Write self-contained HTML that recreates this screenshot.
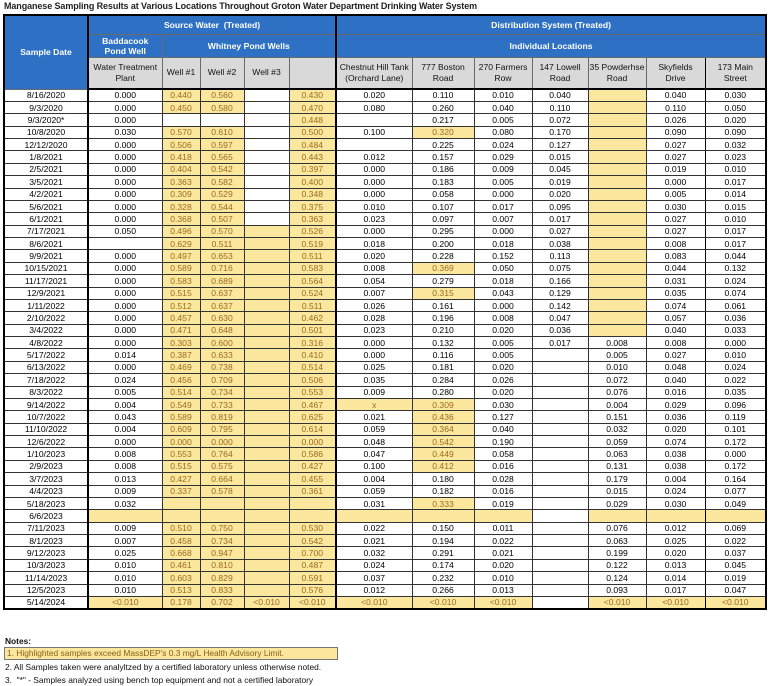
<!DOCTYPE html>
<html><head><meta charset="utf-8"><style>
body{margin:0;width:768px;height:686px;background:#fff;font-family:"Liberation Sans",Arial,sans-serif;position:relative;overflow:hidden}
.title{position:absolute;left:4px;top:1px;font-size:9px;font-weight:bold;color:#222;letter-spacing:-0.1px}
table{position:absolute;left:3px;top:14px;border-collapse:collapse;table-layout:fixed;width:762px;font-size:8.6px;border:2px solid #000}
td,th{border:1px solid #333;padding:0;text-align:center;overflow:hidden;white-space:nowrap;line-height:10px}
th{background:#2e70c4;color:#fff;font-weight:bold;border-color:#6a6a6a}
th.g{background:#d9d9d9;color:#111;font-weight:normal;white-space:normal;line-height:11px}
tbody tr{height:12.38px}
td.y{background:#fce79f;color:#9a6b1c}
.tl{border-left:2px solid #000}
.tr{border-right:2px solid #000}
.mr{border-right:1.5px solid #000}
thead tr.r3 th{border-bottom:2px solid #000}
.notes{position:absolute;left:5px;font-size:8.4px;color:#111}
</style></head><body>
<div class="title">Manganese Sampling Results at Various Locations Throughout Groton Water Department Drinking Water System</div>
<table>
<colgroup><col style="width:84px"><col style="width:74px"><col style="width:38px"><col style="width:44px"><col style="width:45px"><col style="width:47px"><col style="width:76px"><col style="width:62px"><col style="width:58px"><col style="width:56px"><col style="width:58px"><col style="width:59px"><col style="width:61px"></colgroup>
<thead>
<tr style="height:19px"><th rowspan="3" class="tr">Sample Date</th><th colspan="5" class="tr">Source Water &nbsp;(Treated)</th><th colspan="7">Distribution System (Treated)</th></tr>
<tr style="height:23px"><th>Baddacook<br>Pond Well</th><th colspan="4" class="tr">Whitney Pond Wells</th><th colspan="7">Individual Locations</th></tr>
<tr class="r3" style="height:32px"><th class="g">Water Treatment Plant</th><th class="g">Well #1</th><th class="g">Well #2</th><th class="g">Well #3</th><th class="g tr"></th><th class="g">Chestnut Hill Tank (Orchard Lane)</th><th class="g">777 Boston<br>Road</th><th class="g">270 Farmers Row</th><th class="g">147 Lowell Road</th><th class="g">35 Powderhse Road</th><th class="g mr">Skyfields<br>Drive</th><th class="g">173 Main<br>Street</th></tr>
</thead>
<tbody>
<tr><td class="tr">8/16/2020</td><td>0.000</td><td class="y">0.440</td><td class="y">0.560</td><td></td><td class="y tr">0.430</td><td>0.020</td><td>0.110</td><td>0.010</td><td>0.040</td><td class="y"></td><td class="mr">0.040</td><td>0.030</td></tr>
<tr><td class="tr">9/3/2020</td><td>0.000</td><td class="y">0.450</td><td class="y">0.580</td><td></td><td class="y tr">0.470</td><td>0.080</td><td>0.260</td><td>0.040</td><td>0.110</td><td class="y"></td><td class="mr">0.110</td><td>0.050</td></tr>
<tr><td class="tr">9/3/2020*</td><td>0.000</td><td></td><td></td><td></td><td class="y tr">0.448</td><td></td><td>0.217</td><td>0.005</td><td>0.072</td><td class="y"></td><td class="mr">0.026</td><td>0.020</td></tr>
<tr><td class="tr">10/8/2020</td><td>0.030</td><td class="y">0.570</td><td class="y">0.610</td><td></td><td class="y tr">0.500</td><td>0.100</td><td class="y">0.320</td><td>0.080</td><td>0.170</td><td class="y"></td><td class="mr">0.090</td><td>0.090</td></tr>
<tr><td class="tr">12/12/2020</td><td>0.000</td><td class="y">0.506</td><td class="y">0.597</td><td></td><td class="y tr">0.484</td><td></td><td>0.225</td><td>0.024</td><td>0.127</td><td class="y"></td><td class="mr">0.027</td><td>0.032</td></tr>
<tr><td class="tr">1/8/2021</td><td>0.000</td><td class="y">0.418</td><td class="y">0.565</td><td></td><td class="y tr">0.443</td><td>0.012</td><td>0.157</td><td>0.029</td><td>0.015</td><td class="y"></td><td class="mr">0.027</td><td>0.023</td></tr>
<tr><td class="tr">2/5/2021</td><td>0.000</td><td class="y">0.404</td><td class="y">0.542</td><td></td><td class="y tr">0.397</td><td>0.000</td><td>0.186</td><td>0.009</td><td>0.045</td><td class="y"></td><td class="mr">0.019</td><td>0.010</td></tr>
<tr><td class="tr">3/5/2021</td><td>0.000</td><td class="y">0.363</td><td class="y">0.582</td><td></td><td class="y tr">0.400</td><td>0.000</td><td>0.183</td><td>0.005</td><td>0.019</td><td class="y"></td><td class="mr">0.000</td><td>0.017</td></tr>
<tr><td class="tr">4/2/2021</td><td>0.000</td><td class="y">0.309</td><td class="y">0.529</td><td></td><td class="y tr">0.348</td><td>0.000</td><td>0.058</td><td>0.000</td><td>0.020</td><td class="y"></td><td class="mr">0.005</td><td>0.014</td></tr>
<tr><td class="tr">5/6/2021</td><td>0.000</td><td class="y">0.328</td><td class="y">0.544</td><td></td><td class="y tr">0.375</td><td>0.010</td><td>0.107</td><td>0.017</td><td>0.095</td><td class="y"></td><td class="mr">0.030</td><td>0.015</td></tr>
<tr><td class="tr">6/1/2021</td><td>0.000</td><td class="y">0.368</td><td class="y">0.507</td><td></td><td class="y tr">0.363</td><td>0.023</td><td>0.097</td><td>0.007</td><td>0.017</td><td class="y"></td><td class="mr">0.027</td><td>0.010</td></tr>
<tr><td class="tr">7/17/2021</td><td>0.050</td><td class="y">0.496</td><td class="y">0.570</td><td class="y"></td><td class="y tr">0.526</td><td>0.000</td><td>0.295</td><td>0.000</td><td>0.027</td><td class="y"></td><td class="mr">0.027</td><td>0.017</td></tr>
<tr><td class="tr">8/6/2021</td><td></td><td class="y">0.629</td><td class="y">0.511</td><td class="y"></td><td class="y tr">0.519</td><td>0.018</td><td>0.200</td><td>0.018</td><td>0.038</td><td class="y"></td><td class="mr">0.008</td><td>0.017</td></tr>
<tr><td class="tr">9/9/2021</td><td>0.000</td><td class="y">0.497</td><td class="y">0.653</td><td class="y"></td><td class="y tr">0.511</td><td>0.020</td><td>0.228</td><td>0.152</td><td>0.113</td><td class="y"></td><td class="mr">0.083</td><td>0.044</td></tr>
<tr><td class="tr">10/15/2021</td><td>0.000</td><td class="y">0.589</td><td class="y">0.716</td><td class="y"></td><td class="y tr">0.583</td><td>0.008</td><td class="y">0.369</td><td>0.050</td><td>0.075</td><td class="y"></td><td class="mr">0.044</td><td>0.132</td></tr>
<tr><td class="tr">11/17/2021</td><td>0.000</td><td class="y">0.583</td><td class="y">0.689</td><td class="y"></td><td class="y tr">0.564</td><td>0.054</td><td>0.279</td><td>0.018</td><td>0.166</td><td class="y"></td><td class="mr">0.031</td><td>0.024</td></tr>
<tr><td class="tr">12/9/2021</td><td>0.000</td><td class="y">0.515</td><td class="y">0.637</td><td class="y"></td><td class="y tr">0.524</td><td>0.007</td><td class="y">0.315</td><td>0.043</td><td>0.129</td><td class="y"></td><td class="mr">0.035</td><td>0.074</td></tr>
<tr><td class="tr">1/11/2022</td><td>0.000</td><td class="y">0.512</td><td class="y">0.637</td><td class="y"></td><td class="y tr">0.511</td><td>0.026</td><td>0.161</td><td>0.000</td><td>0.142</td><td class="y"></td><td class="mr">0.074</td><td>0.061</td></tr>
<tr><td class="tr">2/10/2022</td><td>0.000</td><td class="y">0.457</td><td class="y">0.630</td><td class="y"></td><td class="y tr">0.462</td><td>0.028</td><td>0.196</td><td>0.008</td><td>0.047</td><td class="y"></td><td class="mr">0.057</td><td>0.036</td></tr>
<tr><td class="tr">3/4/2022</td><td>0.000</td><td class="y">0.471</td><td class="y">0.648</td><td class="y"></td><td class="y tr">0.501</td><td>0.023</td><td>0.210</td><td>0.020</td><td>0.036</td><td class="y"></td><td class="mr">0.040</td><td>0.033</td></tr>
<tr><td class="tr">4/8/2022</td><td>0.000</td><td class="y">0.303</td><td class="y">0.600</td><td class="y"></td><td class="y tr">0.316</td><td>0.000</td><td>0.132</td><td>0.005</td><td>0.017</td><td>0.008</td><td class="mr">0.008</td><td>0.000</td></tr>
<tr><td class="tr">5/17/2022</td><td>0.014</td><td class="y">0.387</td><td class="y">0.633</td><td class="y"></td><td class="y tr">0.410</td><td>0.000</td><td>0.116</td><td>0.005</td><td></td><td>0.005</td><td class="mr">0.027</td><td>0.010</td></tr>
<tr><td class="tr">6/13/2022</td><td>0.000</td><td class="y">0.469</td><td class="y">0.738</td><td class="y"></td><td class="y tr">0.514</td><td>0.025</td><td>0.181</td><td>0.020</td><td></td><td>0.010</td><td class="mr">0.048</td><td>0.024</td></tr>
<tr><td class="tr">7/18/2022</td><td>0.024</td><td class="y">0.456</td><td class="y">0.709</td><td class="y"></td><td class="y tr">0.506</td><td>0.035</td><td>0.284</td><td>0.026</td><td></td><td>0.072</td><td class="mr">0.040</td><td>0.022</td></tr>
<tr><td class="tr">8/3/2022</td><td>0.005</td><td class="y">0.514</td><td class="y">0.734</td><td class="y"></td><td class="y tr">0.553</td><td>0.009</td><td>0.280</td><td>0.020</td><td></td><td>0.076</td><td class="mr">0.016</td><td>0.035</td></tr>
<tr><td class="tr">9/14/2022</td><td>0.004</td><td class="y">0.549</td><td class="y">0.733</td><td class="y"></td><td class="y tr">0.467</td><td class="y">x</td><td class="y">0.309</td><td>0.030</td><td></td><td>0.004</td><td class="mr">0.029</td><td>0.096</td></tr>
<tr><td class="tr">10/7/2022</td><td>0.043</td><td class="y">0.589</td><td class="y">0.819</td><td class="y"></td><td class="y tr">0.625</td><td>0.021</td><td class="y">0.436</td><td>0.127</td><td></td><td>0.151</td><td class="mr">0.036</td><td>0.119</td></tr>
<tr><td class="tr">11/10/2022</td><td>0.004</td><td class="y">0.609</td><td class="y">0.795</td><td class="y"></td><td class="y tr">0.614</td><td>0.059</td><td class="y">0.364</td><td>0.040</td><td></td><td>0.032</td><td class="mr">0.020</td><td>0.101</td></tr>
<tr><td class="tr">12/6/2022</td><td>0.000</td><td class="y">0.000</td><td class="y">0.000</td><td class="y"></td><td class="y tr">0.000</td><td>0.048</td><td class="y">0.542</td><td>0.190</td><td></td><td>0.059</td><td class="mr">0.074</td><td>0.172</td></tr>
<tr><td class="tr">1/10/2023</td><td>0.008</td><td class="y">0.553</td><td class="y">0.764</td><td class="y"></td><td class="y tr">0.586</td><td>0.047</td><td class="y">0.449</td><td>0.058</td><td></td><td>0.063</td><td class="mr">0.038</td><td>0.000</td></tr>
<tr><td class="tr">2/9/2023</td><td>0.008</td><td class="y">0.515</td><td class="y">0.575</td><td class="y"></td><td class="y tr">0.427</td><td>0.100</td><td class="y">0.412</td><td>0.016</td><td></td><td>0.131</td><td class="mr">0.038</td><td>0.172</td></tr>
<tr><td class="tr">3/7/2023</td><td>0.013</td><td class="y">0.427</td><td class="y">0.664</td><td class="y"></td><td class="y tr">0.455</td><td>0.004</td><td>0.180</td><td>0.028</td><td></td><td>0.179</td><td class="mr">0.004</td><td>0.164</td></tr>
<tr><td class="tr">4/4/2023</td><td>0.009</td><td class="y">0.337</td><td class="y">0.578</td><td class="y"></td><td class="y tr">0.361</td><td>0.059</td><td>0.182</td><td>0.016</td><td></td><td>0.015</td><td class="mr">0.024</td><td>0.077</td></tr>
<tr><td class="tr">5/18/2023</td><td>0.032</td><td class="y"></td><td class="y"></td><td class="y"></td><td class="y tr"></td><td>0.031</td><td class="y">0.333</td><td>0.019</td><td></td><td>0.029</td><td class="mr">0.030</td><td>0.049</td></tr>
<tr><td class="tr">6/6/2023</td><td class="y"></td><td class="y"></td><td class="y"></td><td class="y"></td><td class="y tr"></td><td class="y"></td><td class="y"></td><td class="y"></td><td></td><td class="y"></td><td class="y mr"></td><td class="y"></td></tr>
<tr><td class="tr">7/11/2023</td><td>0.009</td><td class="y">0.510</td><td class="y">0.750</td><td class="y"></td><td class="y tr">0.530</td><td>0.022</td><td>0.150</td><td>0.011</td><td></td><td>0.076</td><td class="mr">0.012</td><td>0.069</td></tr>
<tr><td class="tr">8/1/2023</td><td>0.007</td><td class="y">0.458</td><td class="y">0.734</td><td class="y"></td><td class="y tr">0.542</td><td>0.021</td><td>0.194</td><td>0.022</td><td></td><td>0.063</td><td class="mr">0.025</td><td>0.022</td></tr>
<tr><td class="tr">9/12/2023</td><td>0.025</td><td class="y">0.668</td><td class="y">0.947</td><td class="y"></td><td class="y tr">0.700</td><td>0.032</td><td>0.291</td><td>0.021</td><td></td><td>0.199</td><td class="mr">0.020</td><td>0.037</td></tr>
<tr><td class="tr">10/3/2023</td><td>0.010</td><td class="y">0.461</td><td class="y">0.810</td><td class="y"></td><td class="y tr">0.487</td><td>0.024</td><td>0.174</td><td>0.020</td><td></td><td>0.122</td><td class="mr">0.013</td><td>0.045</td></tr>
<tr><td class="tr">11/14/2023</td><td>0.010</td><td class="y">0.603</td><td class="y">0.829</td><td class="y"></td><td class="y tr">0.591</td><td>0.037</td><td>0.232</td><td>0.010</td><td></td><td>0.124</td><td class="mr">0.014</td><td>0.019</td></tr>
<tr><td class="tr">12/5/2023</td><td>0.010</td><td class="y">0.513</td><td class="y">0.833</td><td class="y"></td><td class="y tr">0.576</td><td>0.012</td><td>0.266</td><td>0.013</td><td></td><td>0.093</td><td class="mr">0.017</td><td>0.047</td></tr>
<tr><td class="tr">5/14/2024</td><td class="y">&lt;0.010</td><td class="y">0.178</td><td class="y">0.702</td><td class="y">&lt;0.010</td><td class="y tr">&lt;0.010</td><td class="y">&lt;0.010</td><td class="y">&lt;0.010</td><td class="y">&lt;0.010</td><td></td><td class="y">&lt;0.010</td><td class="y mr">&lt;0.010</td><td class="y">&lt;0.010</td></tr>
</tbody>
</table>
<div class="notes" style="top:636px;font-weight:bold">Notes:</div>
<div class="notes" style="top:647px;left:4px;width:330px;height:11px;background:#fce79f;border:1px solid #777;color:#8a5d12;padding-left:2px;line-height:11px">1. Highlighted samples exceed MassDEP's 0.3 mg/L Health Advisory Limit.</div>
<div class="notes" style="top:662px">2. All Samples taken were analyltzed by a certified laboratory unless otherwise noted.</div>
<div class="notes" style="top:675px">3. &nbsp;"*" - Samples analyzed using bench top equipment and not a certified laboratory</div>
</body></html>
